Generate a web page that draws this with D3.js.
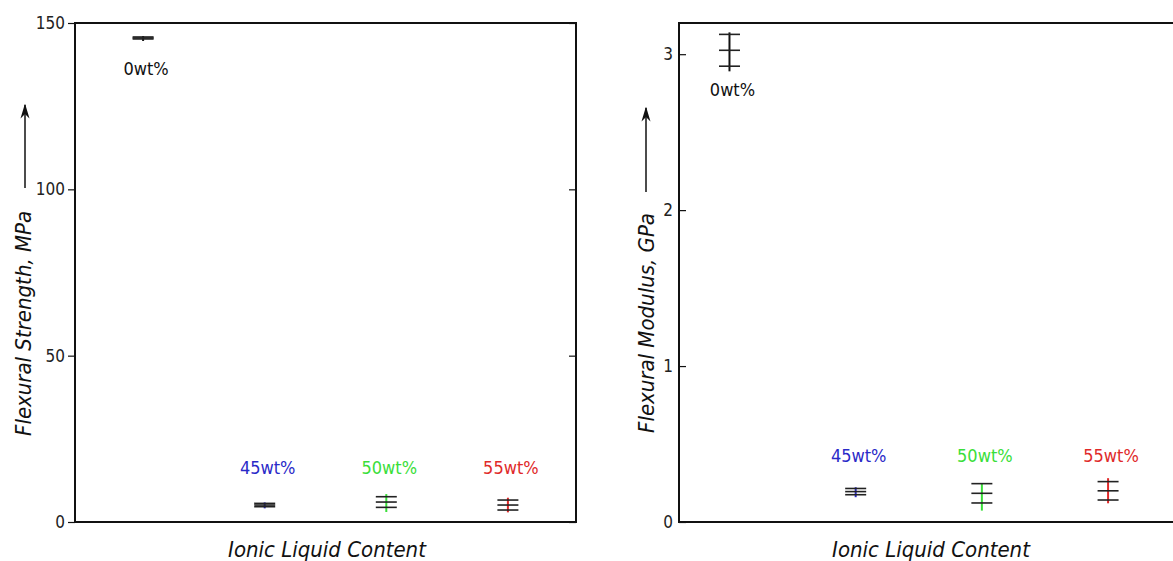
<!DOCTYPE html>
<meta charset="utf-8">
<title>Flexural strength and modulus</title>
<script src="https://d3js.org/d3.v7.min.js"></script>
<style>
  body { margin: 0; background: #fff; }
  .tick-label { font-family: "Liberation Sans Narrow", "DejaVu Sans Condensed", sans-serif; font-size: 17px; fill: #222; }
  .cat-label { font-family: "DejaVu Sans Condensed", "Liberation Sans Narrow", sans-serif; font-size: 18px; }
  .axis-title { font-family: "DejaVu Sans Condensed", "Liberation Sans Narrow", sans-serif; font-size: 22px; font-style: italic; fill: #111; }
</style>
<body>
<div id="chart"></div>
<script>
// categories and colours
var categories = ["0wt%", "45wt%", "50wt%", "55wt%"];
var catColors = ["#111111", "#2a2ac8", "#3ade3a", "#e02a2a"];

// flexural strength, MPa (mean, sd caps, full range of the coloured line)
var strengthMean = [145.5, 5.1, 6.0, 5.1];
var strengthSd   = [0.3, 0.5, 1.6, 1.5];
var strengthMin  = [144.6, 4.1, 3.0, 2.9];
var strengthMax  = [146.1, 5.9, 8.4, 7.3];
var strengthTicks = [0, 50, 100, 150];

// flexural modulus, GPa
var modulusMean = [3.025, 0.195, 0.184, 0.200];
var modulusSd   = [0.102, 0.020, 0.062, 0.059];
var modulusMin  = [2.89, 0.159, 0.073, 0.120];
var modulusMax  = [3.14, 0.223, 0.249, 0.281];
var modulusTicks = [0, 1, 2, 3];

var W = 1173, H = 561;
var svg = d3.select("#chart").append("svg")
    .attr("width", W).attr("height", H);

var defs = svg.append("defs");
defs.append("marker")
    .attr("id", "arrow")
    .attr("viewBox", "0 0 10 10")
    .attr("refX", 9).attr("refY", 5)
    .attr("markerWidth", 10).attr("markerHeight", 10)
    .attr("orient", "auto")
    .append("path")
    .attr("d", "M0,2 L10,5 L0,8 L3,5 Z")
    .attr("fill", "#111");

function drawPanel(cfg) {
    var x = d3.scaleLinear().domain(cfg.xDomain).range([cfg.left, cfg.left + 501]);
    var y = d3.scaleLinear().domain(cfg.yDomain).range([522, 23]);
    var g = svg.append("g");

    // frame
    g.append("rect")
        .attr("x", cfg.left).attr("y", 23)
        .attr("width", 501).attr("height", 499)
        .attr("fill", "none").attr("stroke", "#111").attr("stroke-width", 2);

    // left axis and mirrored ticks on the right side (inner)
    var axL = d3.axisLeft(y).tickValues(cfg.ticks).tickFormat(d3.format("d"))
        .tickSize(cfg.leftTick).tickPadding(cfg.tickPad);
    var gl = g.append("g").attr("transform", "translate(" + cfg.left + ",0)").call(axL);
    gl.select(".domain").remove();
    gl.selectAll("line").attr("stroke", "#111").attr("stroke-width", 1.2);
    gl.selectAll("text").attr("class", "tick-label").attr("font-size", null).attr("font-family", null);

    var axR = d3.axisRight(y).tickValues(cfg.ticks).tickSize(-7).tickFormat("");
    var gr = g.append("g").attr("transform", "translate(" + (cfg.left + 501) + ",0)").call(axR);
    gr.select(".domain").remove();
    gr.selectAll("line").attr("stroke", "#111").attr("stroke-width", 1.2);

    // error bars
    categories.forEach(function(c, i) {
        var cx = x(i), capW = 10.5;
        var m = cfg.mean[i], s = cfg.sd[i];
        g.append("line")
            .attr("x1", cx).attr("x2", cx)
            .attr("y1", y(cfg.min[i])).attr("y2", y(cfg.max[i]))
            .attr("stroke", catColors[i]).attr("stroke-width", 2);
        [m - s, m, m + s].forEach(function(v) {
            g.append("line")
                .attr("x1", cx - capW).attr("x2", cx + capW)
                .attr("y1", y(v)).attr("y2", y(v))
                .attr("stroke", "#222").attr("stroke-width", 1.6);
        });
        var ly = i === 0 ? y(cfg.min[0]) + cfg.firstLabelGap : y(cfg.labelValue);
        g.append("text")
            .attr("class", "cat-label")
            .attr("x", cx + 3).attr("y", ly)
            .attr("text-anchor", "middle")
            .attr("fill", catColors[i])
            .text(c);
    });

    // y title with arrow
    g.append("text")
        .attr("class", "axis-title")
        .attr("font-size", "23.5px")
        .attr("transform", "translate(" + cfg.titleX + "," + cfg.titleBottom + ") rotate(-90)")
        .attr("text-anchor", "start")
        .text(cfg.yTitle);
    g.append("line")
        .attr("x1", cfg.arrowX).attr("x2", cfg.arrowX)
        .attr("y1", cfg.arrowFrom).attr("y2", cfg.arrowTo)
        .attr("stroke", "#111").attr("stroke-width", 1.5)
        .attr("marker-end", "url(#arrow)");

    // x title
    g.append("text")
        .attr("class", "axis-title")
        .attr("x", cfg.left + 252).attr("y", 557)
        .attr("text-anchor", "middle")
        .text("Ionic Liquid Content");
}

drawPanel({
    left: 75, xDomain: [-0.56, 3.56], yDomain: [0, 150], ticks: strengthTicks,
    leftTick: 7, tickPad: 3,
    mean: strengthMean, sd: strengthSd, min: strengthMin, max: strengthMax,
    labelValue: 14.5, firstLabelGap: 34,
    yTitle: "Flexural Strength, MPa", titleX: 31, titleBottom: 436,
    arrowX: 25, arrowFrom: 188, arrowTo: 105
});

drawPanel({
    left: 679, xDomain: [-0.40, 3.57], yDomain: [0, 3.2], ticks: modulusTicks,
    leftTick: -7, tickPad: 6,
    mean: modulusMean, sd: modulusSd, min: modulusMin, max: modulusMax,
    labelValue: 0.385, firstLabelGap: 25,
    yTitle: "Flexural Modulus, GPa", titleX: 654, titleBottom: 433,
    arrowX: 646, arrowFrom: 192, arrowTo: 108
});
</script>
</body>
